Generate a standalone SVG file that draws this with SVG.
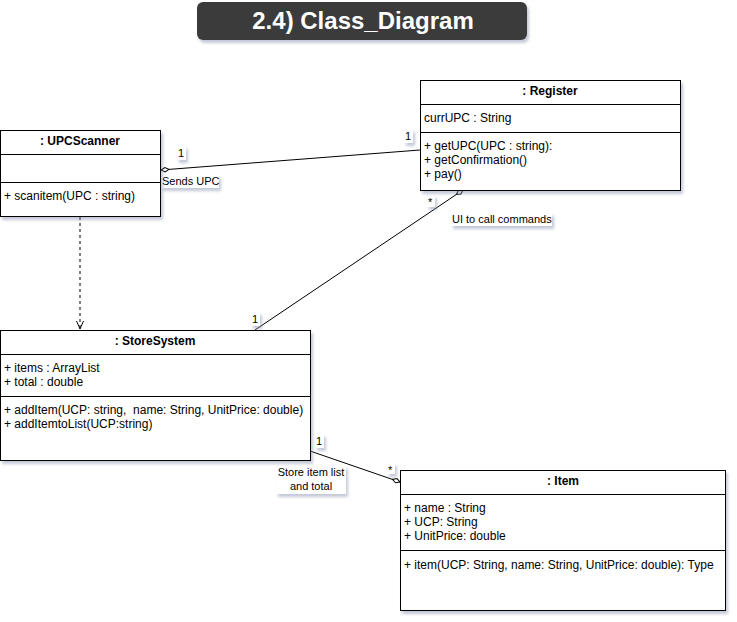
<svg xmlns="http://www.w3.org/2000/svg" width="737" height="622" viewBox="0 0 737 622">
<style>
text{font-family:"Liberation Sans",Arial,sans-serif;font-size:11px;fill:#000}
.c{font-size:12px}
.h{font-size:12px;font-weight:bold;text-anchor:middle}
.box{fill:#fff;stroke:#000;stroke-width:1}
.div{stroke:#000;stroke-width:1}
.lbg{fill:#fff}
.edge{fill:none;stroke:#000;stroke-width:1}
</style>
<defs>
<filter id="sh" x="-10%" y="-10%" width="130%" height="140%">
<feDropShadow dx="2" dy="3" stdDeviation="1.5" flood-color="#7a86a8" flood-opacity="0.45"/>
</filter>
<marker id="dia" markerUnits="userSpaceOnUse" markerWidth="12" markerHeight="8" refX="0.5" refY="3" orient="auto" overflow="visible">
<path d="M0.5,3 L4.5,0.8 L8.5,3 L4.5,5.2 Z" fill="#fff" stroke="#000" stroke-width="1"/>
</marker>
<marker id="open" markerUnits="userSpaceOnUse" markerWidth="10" markerHeight="10" refX="8" refY="4" orient="auto" overflow="visible">
<path d="M0,0.5 L8,4 L0,7.5" fill="none" stroke="#000" stroke-width="1"/>
</marker>
</defs>
<g id="title">
<rect x="197" y="2" width="330" height="38" rx="6" fill="#3b3b3b" filter="url(#sh)"/>
<text x="363" y="29" style="font-size:24px;font-weight:bold;fill:#fff;text-anchor:middle">2.4) Class_Diagram</text>
</g>
<g id="connectors">
<path class="edge" d="M161,170 L420,150" marker-start="url(#dia)"/>
<path class="edge" d="M463,190 L255,330" marker-start="url(#dia)"/>
<path class="edge" d="M400,482 L310,451" marker-start="url(#dia)"/>
<path class="edge" d="M80,217 L80,329" stroke-dasharray="3,3" marker-end="url(#open)"/>
<g filter="url(#sh)">
<rect class="lbg" x="177" y="146" width="9" height="14"/>
<rect class="lbg" x="161" y="175" width="58" height="13"/>
<rect class="lbg" x="404" y="129" width="9" height="14"/>
<rect class="lbg" x="427" y="195" width="8" height="12"/>
<rect class="lbg" x="451" y="213" width="101" height="13"/>
<rect class="lbg" x="251" y="312" width="9" height="14"/>
<rect class="lbg" x="315" y="434" width="9" height="14"/>
<rect class="lbg" x="387" y="463" width="8" height="11"/>
<rect class="lbg" x="276" y="466" width="70" height="28"/>
</g>
<text x="178" y="157">1</text>
<text x="162" y="185">Sends UPC</text>
<text x="405" y="140">1</text>
<text x="428" y="206">*</text>
<text x="452" y="223">UI to call commands</text>
<text x="252" y="323">1</text>
<text x="316" y="445">1</text>
<text x="388" y="474">*</text>
<text x="311" y="476" text-anchor="middle">Store item list</text>
<text x="311" y="490" text-anchor="middle">and total</text>
</g>
<g id="UPCScanner">
<rect class="box" x="0.5" y="130.5" width="160" height="86" filter="url(#sh)"/>
<text class="h" x="80" y="145">: UPCScanner</text>
<line class="div" x1="0.5" y1="154.5" x2="160.5" y2="154.5"/>
<line class="div" x1="0.5" y1="182.5" x2="160.5" y2="182.5"/>
<text class="c" x="4" y="200">+ scanitem(UPC : string)</text>
</g>
<g id="Register">
<rect class="box" x="420.5" y="80.5" width="260" height="110" filter="url(#sh)"/>
<text class="h" x="550" y="95">: Register</text>
<line class="div" x1="420.5" y1="104.5" x2="680.5" y2="104.5"/>
<text class="c" x="424" y="122">currUPC : String</text>
<line class="div" x1="420.5" y1="132.5" x2="680.5" y2="132.5"/>
<text class="c" x="424" y="150">+ getUPC(UPC : string):</text>
<text class="c" x="424" y="164">+ getConfirmation()</text>
<text class="c" x="424" y="178">+ pay()</text>
</g>
<g id="StoreSystem">
<rect class="box" x="0.5" y="330.5" width="310" height="130" filter="url(#sh)"/>
<text class="h" x="155" y="345">: StoreSystem</text>
<line class="div" x1="0.5" y1="354.5" x2="310.5" y2="354.5"/>
<text class="c" x="4" y="372">+ items : ArrayList</text>
<text class="c" x="4" y="386">+ total : double</text>
<line class="div" x1="0.5" y1="396.5" x2="310.5" y2="396.5"/>
<text class="c" x="4" y="414" xml:space="preserve">+ addItem(UCP: string,  name: String, UnitPrice: double)</text>
<text class="c" x="4" y="428">+ addItemtoList(UCP:string)</text>
</g>
<g id="Item">
<rect class="box" x="400.5" y="470.5" width="325" height="140" filter="url(#sh)"/>
<text class="h" x="563" y="485">: Item</text>
<line class="div" x1="400.5" y1="494.5" x2="725.5" y2="494.5"/>
<text class="c" x="404" y="512">+ name : String</text>
<text class="c" x="404" y="526">+ UCP: String</text>
<text class="c" x="404" y="540">+ UnitPrice: double</text>
<line class="div" x1="400.5" y1="550.5" x2="725.5" y2="550.5"/>
<text class="c" x="404" y="569">+ item(UCP: String, name: String, UnitPrice: double): Type</text>
</g>
</svg>
